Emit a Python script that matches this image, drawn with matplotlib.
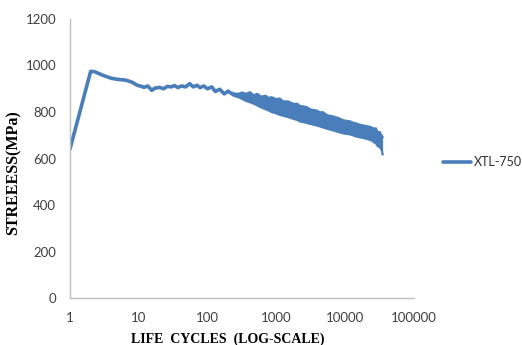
import matplotlib
matplotlib.use("Agg")
from matplotlib import pyplot as plt

# early part of the curve (cycles, MPa)
cycles = [1, 2.0, 2.3, 3, 4, 5, 6.5, 8, 9.5, 11, 12, 13.5, 15.5, 17, 20, 23,
          26, 30, 33, 37, 42, 48, 55, 62, 70, 78, 88, 100, 115, 130, 150,
          175, 200]
stress = [640, 975, 973, 958, 945, 940, 937, 928, 915, 910, 906, 912, 893,
          902, 906, 900, 910, 908, 914, 905, 912, 908, 922, 908, 915, 905,
          912, 900, 908, 888, 898, 878, 890]

# later noisy band: upper and lower edges
band_cycles = [200, 240, 280, 320, 360, 413, 470, 530, 600, 700, 780, 850,
               1000, 1120, 1250, 1500, 1800, 2000, 2200, 2700, 3200, 3900,
               4300, 4700, 5500, 6500, 7200, 8000, 9500, 11700, 13000, 14000,
               17000, 20000, 23000, 25000, 26000, 28000, 29000, 31000, 32000,
               33000, 34000, 35000]
band_upper = [890, 880, 878, 884, 878, 885, 872, 878, 866, 870, 860, 864, 855,
              858, 846, 845, 834, 836, 826, 822, 810, 806, 798, 800, 786, 782,
              778, 774, 764, 760, 754, 752, 744, 740, 736, 732, 728, 730, 718,
              710, 714, 702, 700, 692]
band_lower = [885, 870, 864, 856, 848, 842, 836, 828, 820, 812, 806, 800, 794,
              788, 784, 778, 770, 766, 760, 754, 748, 742, 738, 734, 728, 722,
              718, 714, 708, 704, 700, 696, 690, 686, 680, 676, 670, 666, 658,
              650, 652, 642, 638, 618]

color = "#4A7EBB"
gray = "#404040"

fig = plt.figure(figsize=(5.22, 3.45), dpi=100)
ax = fig.add_axes([0.134, 0.136, 0.659, 0.809])

line, = ax.plot(cycles, stress, color=color, lw=2.6,
                solid_capstyle="round", label="XTL-750")
ax.fill_between(band_cycles, band_lower, band_upper, color=color, lw=0)
ax.plot(band_cycles, band_upper, color=color, lw=1.6)
ax.plot(band_cycles, band_lower, color=color, lw=1.6)

ax.set_xscale("log")
ax.set_xlim(1, 100000)
ax.set_ylim(0, 1200)
ax.set_xticks([1, 10, 100, 1000, 10000, 100000])
ax.set_xticklabels(["1", "10", "100", "1000", "10000", "100000"])
ax.set_yticks(range(0, 1201, 200))
ax.minorticks_off()

for s in ["top", "right"]:
    ax.spines[s].set_visible(False)
for s in ["left", "bottom"]:
    ax.spines[s].set_color("#BFBFBF")
    ax.spines[s].set_linewidth(1)
ax.tick_params(length=0, pad=10, labelsize=9.5, labelcolor=gray)
for t in ax.get_xticklabels() + ax.get_yticklabels():
    t.set_family("Lato")

ax.set_xlabel("LIFE  CYCLES  (LOG-SCALE)", family="Liberation Serif",
              weight="bold", fontsize=10)
ax.xaxis.set_label_coords(0.46, -0.125)
ax.set_ylabel("STREEESS(MPa)", family="Liberation Serif", weight="bold",
              fontsize=11.5)
ax.yaxis.set_label_coords(-0.14, 0.45)

ax.legend(handles=[line], loc="center left", bbox_to_anchor=(1.052, 0.487),
          frameon=False, handlelength=2.2, handletextpad=0.3,
          prop={"family": "Lato", "size": 9}, labelcolor="#303030")

fig.savefig("out.png", dpi=100)
